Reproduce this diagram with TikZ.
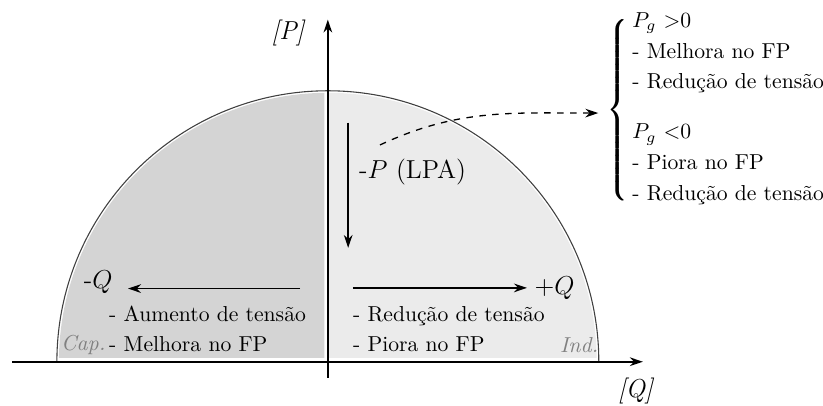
\documentclass[tikz,border=0pt]{standalone}
\usetikzlibrary{arrows.meta}
\renewcommand{\arraystretch}{1.18}
\definecolor{capfill}{gray}{0.83}
\definecolor{indfill}{gray}{0.92}
\newcommand{\bigbrace}{$\left\{\vrule height 42pt depth 42pt width 0pt\right.$}

\begin{document}
\begin{tikzpicture}[scale=1.1,
    arr/.style={-{Stealth[length=6pt,width=4pt]}, line width=0.8pt},
    lbl/.style={anchor=west, text height=1.5ex, text depth=0.25ex},
    side/.style={gray, font=\itshape},
    axlbl/.style={font=\large}]
  \useasboundingbox (-4.84,-0.65) rectangle (7.31,5.34);

  % Capacitive / inductive halves
  \begin{scope}
    \clip (-3.98,0.06) rectangle (-0.05,4);
    \fill[capfill] (0,0) circle[radius=3.97];
  \end{scope}
  \begin{scope}
    \clip (0.02,0.06) rectangle (3.98,4);
    \fill[indfill] (0,0) circle[radius=3.97];
  \end{scope}
  \draw[black!75, line width=0.5pt] (-4,0) arc[start angle=180, end angle=0, radius=4];

  % Axes
  \coordinate (qmin) at (-4.66,0);
  \coordinate (qmax) at (4.65,0);
  \coordinate (pmin) at (0,-0.24);
  \coordinate (pmax) at (0,5.05);
  \draw[arr] (qmin) -- (qmax);
  \draw[arr] (pmin) -- (pmax);
  \node[axlbl] (qlab) at (4.55,-0.43) {\textit{[Q]}};
  \node[axlbl] (plab) at (-0.58,4.86) {\textit{[P]}};

  % Active power drawn by the load
  \coordinate (ptop) at (0.30,3.53);
  \coordinate (pbot) at (0.30,1.68);
  \draw[arr] (ptop) -- (pbot);
  \node[axlbl, anchor=west] (lpa) at (0.35,2.80) {-$P$ (LPA)};

  % Reactive power
  \coordinate (qcap) at (-0.41,1.08);
  \node[axlbl, anchor=east, inner xsep=7pt] (mQ) at (-2.95,1.17) {-$Q$};
  \draw[arr] (qcap) -- (qcap -| mQ.east);
  \coordinate (qind) at (0.37,1.09);
  \node[axlbl, anchor=west] (pQ) at (2.94,1.09) {$+Q$};
  \draw[arr] (qind) -- (pQ.west);

  % Effects
  \node[lbl] (capa) at (-3.34,0.68) {- Aumento de tens\~ao};
  \node[lbl] (capb) at (-3.34,0.24) {- Melhora no FP};
  \node[lbl] (inda) at (0.26,0.68) {- Redu\c{c}\~ao de tens\~ao};
  \node[lbl] (indb) at (0.26,0.24) {- Piora no FP};
  \node[side] (cap) at (-3.61,0.25) {Cap.};
  \node[side] (ind) at (3.71,0.25) {Ind.};

  % Generation cases
  \node[anchor=west, inner sep=0pt] (cases) at (4.49,3.75) {\begin{tabular}{@{}l@{}}
      $P_g$ $>$0\\
      - Melhora no FP\\
      - Redu\c{c}\~ao de tens\~ao\\[9pt]
      $P_g$ $<$0\\
      - Piora no FP\\
      - Redu\c{c}\~ao de tens\~ao
    \end{tabular}};
  \node[anchor=east, inner xsep=4pt, inner ysep=0pt, xshift=3.5pt, yshift=-2.5pt] (brace)
    at (cases.west) {\rlap{\bigbrace}\kern0.6pt\bigbrace};
  \coordinate (lpaend) at (0.77,3.20);
  \draw[-{Stealth[length=6pt,width=4pt]}, dashed, line width=0.6pt]
    (lpaend) to[out=25, in=180] (brace.west);
\end{tikzpicture}
\end{document}
